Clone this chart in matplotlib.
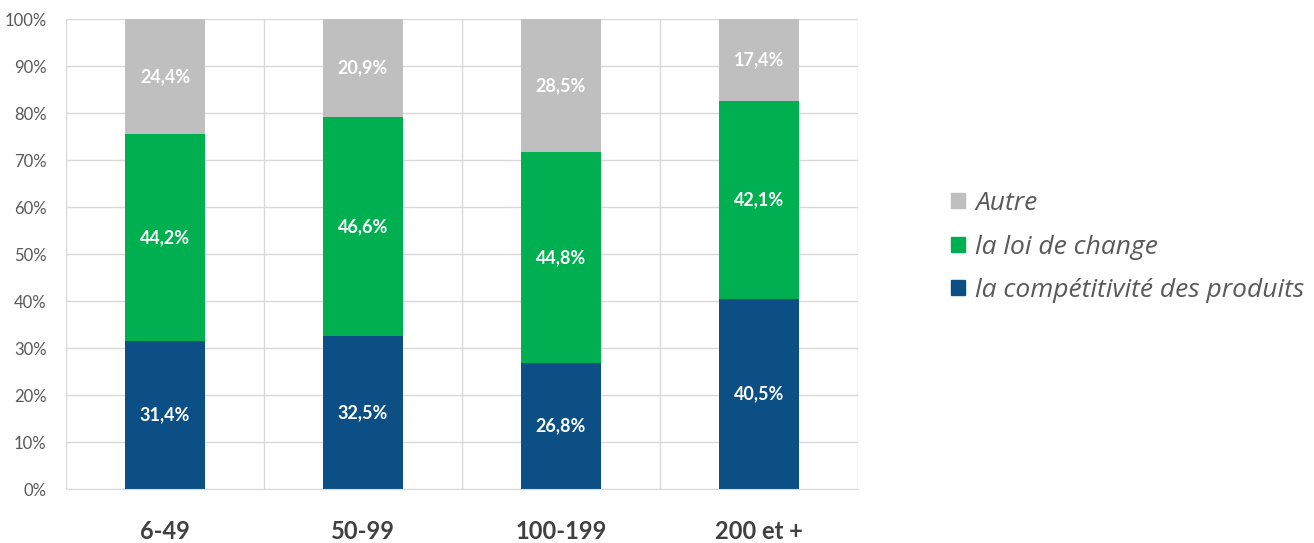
import matplotlib.pyplot as plt
import numpy as np
from matplotlib.patches import Patch

plt.rcParams['font.family'] = ['Lato', 'DejaVu Sans']

categories = ["6-49", "50-99", "100-199", "200 et +"]
competitivite = [31.4, 32.5, 26.8, 40.5]
loi_change = [44.2, 46.6, 44.8, 42.1]
autre = [24.4, 20.9, 28.5, 17.4]

series_names = ["la compétitivité des produits", "la loi de change", "Autre"]
colors = ['#0B4F85', '#00B050', '#BFBFBF']

fig = plt.figure(figsize=(13.14, 5.43), dpi=100)
ax = fig.add_axes([0.0502, 0.0994, 0.6027, 0.8656])

x = np.arange(len(categories))
width = 0.40
bottom = np.zeros(len(categories))
for vals, col in zip([competitivite, loi_change, autre], colors):
    vals = np.array(vals)
    top = np.minimum(bottom + vals, 100)
    ax.bar(x, (top - bottom) / 100, bottom=bottom / 100, width=width, color=col, zorder=2)
    for xi, b, t, v in zip(x, bottom, top, vals):
        ax.text(xi, (b + t) / 200, f"{v:.1f}%".replace('.', ','), ha='center', va='center',
                color='white', fontsize=13, fontweight='bold', zorder=3)
    bottom = bottom + vals

ax.set_xlim(-0.5, 3.5)
ax.set_ylim(0, 1)
ax.set_yticks(np.arange(0, 1.01, 0.1))
ax.set_yticklabels([f"{int(round(v * 100))}%" for v in np.arange(0, 1.01, 0.1)],
                   fontsize=12, color='#595959')
ax.set_xticks(x)
ax.set_xticklabels(categories, fontsize=17, fontweight='bold', color='#404040')
ax.tick_params(axis='x', length=0, pad=22)
ax.tick_params(axis='y', length=0, pad=14)

ax.set_xticks(np.arange(-0.5, 3.6, 1), minor=True)
ax.grid(axis='y', color='#D9D9D9', linewidth=1, zorder=0)
ax.grid(axis='x', which='minor', color='#D9D9D9', linewidth=1, zorder=0)
ax.tick_params(axis='x', which='minor', length=0)
for s in ['top', 'left', 'right']:
    ax.spines[s].set_visible(False)
ax.spines['bottom'].set_color('#D9D9D9')
ax.set_axisbelow(True)

handles = [Patch(color=c) for c in colors[::-1]]
fig.legend(handles, series_names[::-1], loc='center left', bbox_to_anchor=(0.716, 0.545),
           frameon=False, handlelength=0.5, handleheight=0.5,
           handletextpad=0.4, labelspacing=0.7,
           prop={'family': ['Open Sans', 'DejaVu Sans'], 'style': 'italic', 'size': 19},
           labelcolor='#595959', borderaxespad=0)

fig.savefig('out.png', dpi=100)
